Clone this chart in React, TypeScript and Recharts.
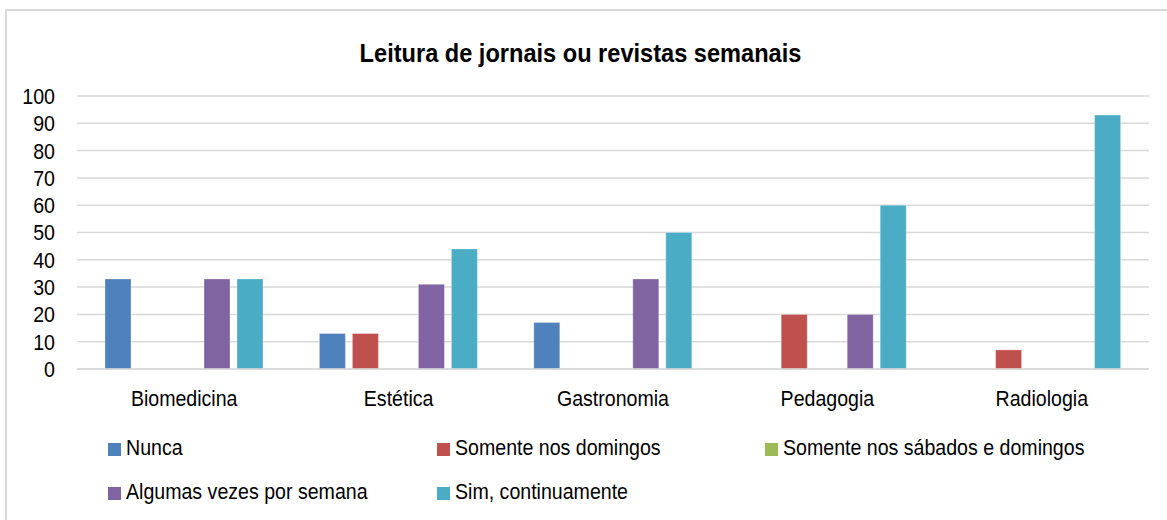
import React from 'react';
import { BarChart, Bar, XAxis, YAxis, CartesianGrid } from 'recharts';

const categories = ['Biomedicina', 'Estética', 'Gastronomia', 'Pedagogia', 'Radiologia'];
const nunca = [33, 13, 17, 0, 0];
const somenteDomingos = [0, 13, 0, 20, 7];
const sabadosDomingos = [0, 0, 0, 0, 0];
const algumasVezes = [33, 31, 33, 20, 0];
const simContinuamente = [33, 44, 50, 60, 93];
const yTicks = [0, 10, 20, 30, 40, 50, 60, 70, 80, 90, 100];

const seriesNames = [
  'Nunca',
  'Somente nos domingos',
  'Somente nos sábados e domingos',
  'Algumas vezes por semana',
  'Sim, continuamente',
];
const seriesValues = [nunca, somenteDomingos, sabadosDomingos, algumasVezes, simContinuamente];
const seriesColors = ['#4F81BD', '#C0504D', '#9BBB59', '#8064A2', '#4BACC6'];
const title = 'Leitura de jornais ou revistas semanais';

const data = categories.map((c, i) => {
  const row: Record<string, string | number> = { category: c };
  seriesNames.forEach((n, s) => {
    row['s' + s] = seriesValues[s][i];
  });
  return row;
});

const FONT = "'Liberation Sans', Arial, sans-serif";
const TEXT_SCALE = 0.87;
const TEXT_SIZE = 22.5;

const makeTick = (anchor: 'middle' | 'end', dy: string) => (props: any) => {
  const { x, y, payload } = props;
  return (
    <text
      x={x}
      y={y}
      dy={dy}
      textAnchor={anchor}
      fill="#000"
      fontSize={TEXT_SIZE}
      fontFamily={FONT}
      transform={`translate(${x} ${y}) scale(${TEXT_SCALE} 1) translate(${-x} ${-y})`}
    >
      {payload.value}
    </text>
  );
};
const xTick = makeTick('middle', '0.71em');
const yTick = makeTick('end', '0.355em');

// legend grid: 3 columns, 2 rows
const legendCols = [108, 436.5, 765];
const legendRows = [443, 487];

export default function App() {
  return (
    <div
      style={{
        position: 'absolute',
        left: 0,
        top: 0,
        width: 1167,
        height: 520,
        overflow: 'hidden',
        background: '#fff',
        fontFamily: FONT,
      }}
    >
      <div
        style={{
          position: 'absolute',
          left: 5,
          top: 9,
          width: 1200,
          height: 600,
          border: '2px solid #d9d9d9',
          boxSizing: 'border-box',
        }}
      />
      <div
        style={{
          position: 'absolute',
          left: 0,
          top: 40,
          width: 1161,
          textAlign: 'center',
          fontSize: 26.5,
          lineHeight: '26.5px',
          fontWeight: 'bold',
          color: '#000',
          transform: 'scaleX(0.89)',
          transformOrigin: '580.5px 50%',
          whiteSpace: 'nowrap',
        }}
      >
        {title}
      </div>
      <div style={{ position: 'absolute', left: 0, top: 0 }}>
        <BarChart
          width={1167}
          height={520}
          data={data}
          margin={{ top: 96, right: 18, bottom: 121, left: 0 }}
          barSize={26}
          barGap={7}
        >
          <CartesianGrid vertical={false} stroke="#d9d9d9" strokeWidth={1.5} />
          <XAxis
            dataKey="category"
            height={30}
            tickLine={false}
            tickSize={0}
            tickMargin={21}
            axisLine={{ stroke: '#d9d9d9', strokeWidth: 1.5 }}
            tick={xTick}
            interval={0}
          />
          <YAxis
            width={77}
            domain={[0, 100]}
            ticks={yTicks}
            interval={0}
            tickLine={false}
            tickSize={0}
            tickMargin={22}
            axisLine={false}
            tick={yTick}
          />
          {seriesNames.map((n, s) => (
            <Bar
              key={n}
              dataKey={'s' + s}
              name={n}
              fill={seriesColors[s]}
              stroke="#ffffff"
              strokeOpacity={0.3}
              strokeWidth={1}
              isAnimationActive={false}
            />
          ))}
        </BarChart>
      </div>
      {seriesNames.map((n, s) => (
        <div
          key={n}
          style={{
            position: 'absolute',
            left: legendCols[s % 3],
            top: legendRows[Math.floor(s / 3)],
            width: 1,
            height: 13,
          }}
        >
          <span
            style={{
              position: 'absolute',
              left: 0,
              top: 0,
              width: 13,
              height: 13,
              background: seriesColors[s],
            }}
          />
          <span
            style={{
              position: 'absolute',
              left: 18,
              top: -4.8,
              fontSize: TEXT_SIZE,
              lineHeight: '20px',
              color: '#000',
              whiteSpace: 'nowrap',
              transform: `scaleX(${TEXT_SCALE})`,
              transformOrigin: '0 50%',
            }}
          >
            {n}
          </span>
        </div>
      ))}
    </div>
  );
}
